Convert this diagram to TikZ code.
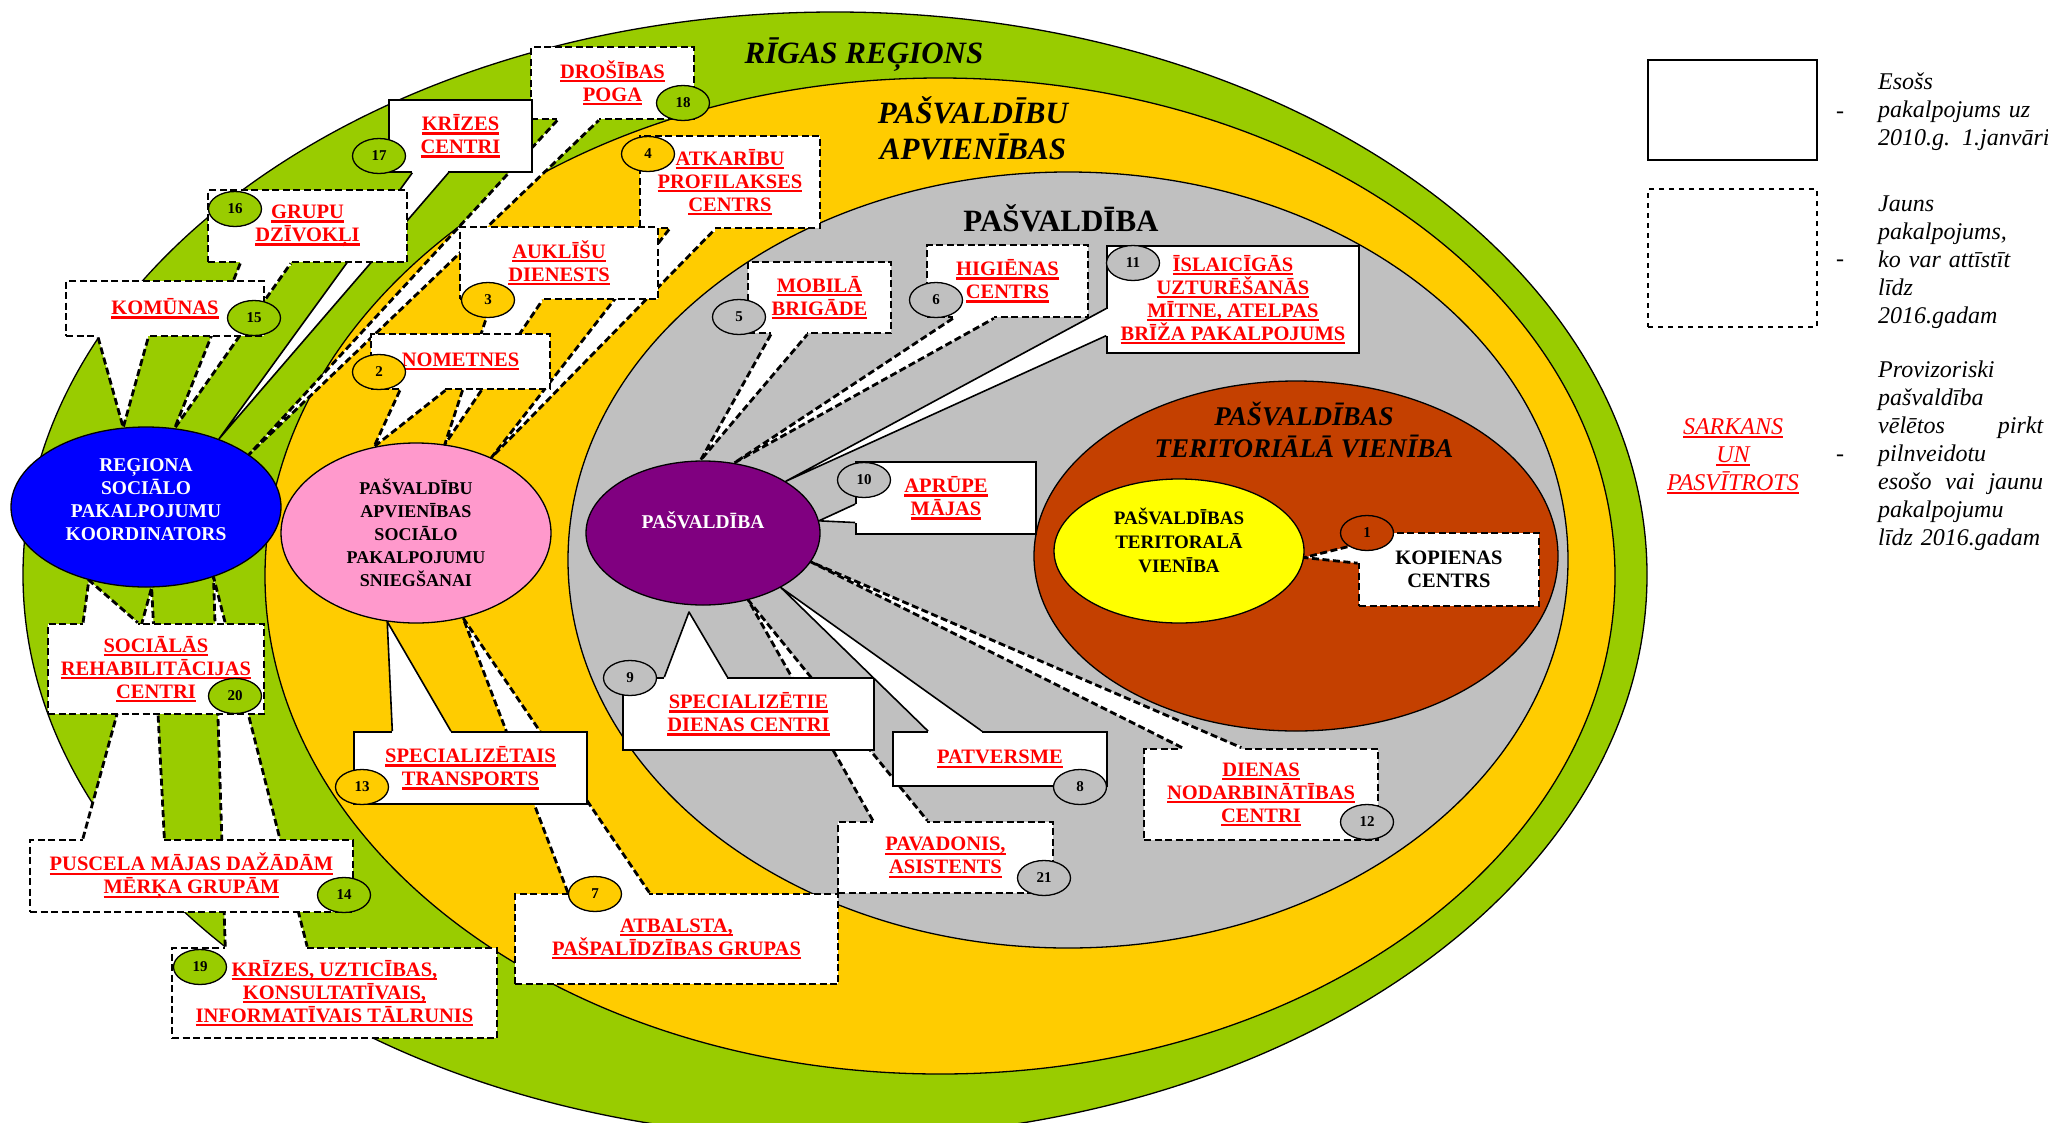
\documentclass[tikz,border=0pt]{standalone}
\usepackage{fontspec}
\setmainfont{Liberation Serif}
\usetikzlibrary{shapes.geometric, calc}

\definecolor{greenband}{RGB}{153,204,0}
\definecolor{orangeband}{RGB}{255,204,0}
\definecolor{grayband}{RGB}{192,192,192}
\definecolor{brownunit}{RGB}{196,64,0}
\definecolor{yellowunit}{RGB}{255,255,0}
\definecolor{koordblue}{RGB}{0,0,255}
\definecolor{apvpink}{RGB}{255,153,204}
\definecolor{pasvpurple}{RGB}{128,0,128}

\newcommand{\calloutfont}{\fontsize{20.5}{23}\selectfont\bfseries}
\newcommand{\corefont}{\fontsize{19.5}{23}\selectfont\bfseries}
\newcommand{\badgefont}{\fontsize{15}{17}\selectfont\bfseries}
\newcommand{\titlefont}{\fontsize{31}{36}\selectfont\bfseries\itshape}
\newcommand{\legendfont}{\fontsize{24}{28}\selectfont\itshape}

% red underline, one per line
\newsavebox{\undbox}
\newcommand{\und}[1]{\leavevmode\sbox{\undbox}{#1}\rlap{\rule[-4pt]{\wd\undbox}{2.2pt}}\usebox{\undbox}}
% justified legend line
\newcommand{\spreadline}[2]{\leavevmode\hbox to 165pt{#1\hfill #2}}

% wedge of a callout: style, first corner, second corner, tip
\newcommand{\tail}[4]{%
  \path (#2) -- coordinate[pos=.1667] (tb1) coordinate[pos=.4167] (tb2) (#3);
  \fill[white] (tb1) -- (#4) -- (tb2) -- cycle;
  \draw[white, line width=4.6pt] (tb1) -- (tb2);
  \draw[#1, line join=round] (tb1) -- (#4) -- (tb2);
}

\begin{document}
\begin{tikzpicture}[x=1pt, y=-1pt,
  band/.style={ellipse, draw=black, line width=1.3pt, inner sep=0pt},
  core/.style={band, align=center, font=\corefont},
  title/.style={align=center, font=\titlefont},
  callbox/.style={rectangle, fill=white, draw=black, inner sep=0pt, align=center, text=red, font=\calloutfont},
  solidbox/.style={callbox, line width=1.6pt},
  dashbox/.style={callbox, line width=2.8pt, dash pattern=on 7pt off 3.5pt},
  soltail/.style={line width=1.6pt},
  dashtail/.style={line width=2.8pt, dash pattern=on 7pt off 3.5pt},
  badge/.style={ellipse, draw=black, line width=1.3pt, minimum width=53pt, minimum height=35pt, inner sep=0pt, font=\badgefont},
  legbox/.style={rectangle, draw=black, minimum width=169pt, inner sep=0pt},
  legtext/.style={anchor=base west, text width=185pt, align=left, inner sep=0pt, font=\legendfont}
]
\fill[white] (0,0) rectangle (2048,1122);
\useasboundingbox (0,0) rectangle (2048,1122);

% nested areas
\node[band, fill=greenband, minimum width=1624, minimum height=1126] (rigas) at (835,575) {};
\node[band, fill=orangeband, minimum width=1350, minimum height=996] (apvband) at (940,576) {};
\node[band, fill=grayband, minimum width=1000, minimum height=776] (pasvband) at (1068,560) {};
\node[band, fill=brownunit, minimum width=524, minimum height=350] (terband) at (1296,556) {};

\node[title] (ttlrigas) at (864,55) {RĪGAS REĢIONS};
\node[title] (ttlapv) at (973,128) {PAŠVALDĪBU\\APVIENĪBAS};
\node[font=\fontsize{31}{36}\selectfont\bfseries] (ttlpasv) at (1061,218) {PAŠVALDĪBA};
\node[title, font=\fontsize{27}{32}\selectfont\bfseries\itshape] (ttlter) at (1304,430) {PAŠVALDĪBAS\\TERITORIĀLĀ VIENĪBA};

% providers
\node[core, fill=koordblue, text=white, minimum width=270, minimum height=160, text depth=14pt] (koord) at (146,507) {REĢIONA\\SOCIĀLO\\PAKALPOJUMU\\KOORDINATORS};
\node[core, fill=apvpink, minimum width=270, minimum height=180, font=\fontsize{18}{23}\selectfont\bfseries] (apv) at (416,533) {PAŠVALDĪBU\\APVIENĪBAS\\SOCIĀLO\\PAKALPOJUMU\\SNIEGŠANAI};
\node[core, fill=pasvpurple, text=white, minimum width=234, minimum height=144, text depth=25pt] (pasv) at (703,533) {PAŠVALDĪBA};
\node[core, fill=yellowunit, minimum width=250, minimum height=144, text depth=22pt, font=\fontsize{19}{24}\selectfont\bfseries] (terv) at (1179,551) {PAŠVALDĪBAS\\TERITORALĀ\\VIENĪBA};
\coordinate (t9) at (689,612);

% regional services
\node[dashbox, minimum width=163, minimum height=72] (c18) at (612.5,83) {\und{DROŠĪBAS}\\\und{POGA}};
\tail{dashtail}{c18.south west}{c18.south east}{koord.27}
\node[badge, fill=greenband] (n18) at (683,103) {18};

\node[solidbox, minimum width=143, minimum height=72] (c17) at (460.5,136) {\und{KRĪZES}\\\und{CENTRI}};
\tail{soltail}{c17.south west}{c17.south east}{koord.43}
\node[badge, fill=greenband] (n17) at (379,156) {17};

\node[dashbox, minimum width=199, minimum height=72] (c16) at (307.5,226) {\und{GRUPU}\\\und{DZĪVOKĻI}};
\tail{dashtail}{c16.south west}{c16.south east}{koord.70}
\node[badge, fill=greenband] (n16) at (235,209) {16};

\node[dashbox, minimum width=198, minimum height=55] (c15) at (165,308.5) {\und{KOMŪNAS}};
\tail{dashtail}{c15.south west}{c15.south east}{koord.106}
\node[badge, fill=greenband] (n15) at (254,318) {15};

% association services
\node[dashbox, minimum width=180, minimum height=92] (c4) at (730,182) {\und{ATKARĪBU}\\\und{PROFILAKSES}\\\und{CENTRS}};
\tail{dashtail}{c4.south west}{c4.south east}{apv.45}
\node[badge, fill=orangeband] (n4) at (648,154) {4};

\node[dashbox, minimum width=198, minimum height=72] (c3) at (559,263) {\und{AUKLĪŠU}\\\und{DIENESTS}};
\tail{dashtail}{c3.south west}{c3.south east}{apv.72}
\node[badge, fill=orangeband] (n3) at (488,300) {3};

\node[dashbox, minimum width=179, minimum height=55] (c2) at (460.5,361.5) {\und{NOMETNES}};
\tail{dashtail}{c2.south west}{c2.south east}{apv.116}
\node[badge, fill=orangeband] (n2) at (379,372) {2};

% municipal services
\node[dashbox, minimum width=143, minimum height=71] (c5) at (819.5,297.5) {\und{MOBILĀ}\\\und{BRIGĀDE}};
\tail{dashtail}{c5.south west}{c5.south east}{pasv.92}
\node[badge, fill=grayband] (n5) at (739,317) {5};

\node[dashbox, minimum width=161, minimum height=72] (c6) at (1007.5,281) {\und{HIGIĒNAS}\\\und{CENTRS}};
\tail{dashtail}{c6.south west}{c6.south east}{pasv.66}
\node[badge, fill=grayband] (n6) at (936,300) {6};

\node[solidbox, minimum width=252, minimum height=107] (c11) at (1233,299.5) {\und{ĪSLAICĪGĀS}\\\und{UZTURĒŠANĀS}\\\und{MĪTNE, ATELPAS}\\\und{BRĪŽA PAKALPOJUMS}};
\tail{soltail}{c11.south west}{c11.north west}{pasv.32}
\node[badge, fill=grayband] (n11) at (1133,263) {11};

\node[solidbox, minimum width=180, minimum height=72] (c10) at (946,498) {\und{APRŪPE}\\\und{MĀJAS}};
\tail{soltail}{c10.south west}{c10.north west}{pasv.6}
\node[badge, fill=grayband] (n10) at (864,480) {10};

\node[dashbox, minimum width=215, minimum height=71] (c21) at (945.5,857.5) {\und{PAVADONIS,}\\\und{ASISTENTS}};
\tail{dashtail}{c21.north west}{c21.north east}{pasv.-56}
\node[badge, fill=grayband] (n21) at (1044,878) {21};

\node[solidbox, minimum width=251, minimum height=72] (c9) at (748.5,714) {\und{SPECIALIZĒTIE}\\\und{DIENAS CENTRI}};
\tail{soltail}{c9.north west}{c9.north east}{t9}
\node[badge, fill=grayband] (n9) at (630,678) {9};

\node[solidbox, minimum width=214, minimum height=54] (c8) at (1000,759) {\und{PATVERSME}};
\tail{soltail}{c8.north west}{c8.north east}{pasv.-35}
\node[badge, fill=grayband] (n8) at (1080,787) {8};

\node[dashbox, minimum width=234, minimum height=91] (c12) at (1261,794.5) {\und{DIENAS}\\\und{NODARBINĀTĪBAS}\\\und{CENTRI}};
\tail{dashtail}{c12.north west}{c12.north east}{pasv.-15}
\node[badge, fill=grayband] (n12) at (1367,822) {12};

\node[dashbox, minimum width=180, minimum height=73, text=black] (c1) at (1449,569.5) {KOPIENAS\\CENTRS};
\tail{dashtail}{c1.north west}{c1.south west}{terv.-3}
\node[badge, fill=brownunit] (n1) at (1367,533) {1};

% lower left
\node[dashbox, minimum width=323, minimum height=90] (c7) at (676.5,939) {\und{ATBALSTA,}\\\und{PAŠPALĪDZĪBAS GRUPAS}};
\tail{dashtail}{c7.north west}{c7.north east}{apv.-61}
\node[badge, fill=orangeband] (n7) at (595,894) {7};

\node[solidbox, minimum width=233, minimum height=72] (c13) at (470.5,768) {\und{SPECIALIZĒTAIS}\\\und{TRANSPORTS}};
\tail{soltail}{c13.north west}{c13.north east}{apv.-108}
\node[badge, fill=orangeband] (n13) at (362,787) {13};

\node[dashbox, minimum width=325, minimum height=90] (c19) at (334.5,993) {\und{KRĪZES, UZTICĪBAS,}\\\und{KONSULTATĪVAIS,}\\\und{INFORMATĪVAIS TĀLRUNIS}};
\tail{dashtail}{c19.north west}{c19.north east}{koord.-46}
\node[badge, fill=greenband] (n19) at (200,967) {19};

\node[dashbox, minimum width=323, minimum height=72] (c14) at (191.5,876) {\und{PUSCELA MĀJAS DAŽĀDĀM}\\\und{MĒRĶA GRUPĀM}};
\tail{dashtail}{c14.north west}{c14.north east}{koord.-86}
\node[badge, fill=greenband] (n14) at (344,895) {14};

\node[dashbox, minimum width=216, minimum height=90] (c20) at (156,669) {\und{SOCIĀLĀS}\\\und{REHABILITĀCIJAS}\\\und{CENTRI}};
\tail{dashtail}{c20.north west}{c20.north east}{koord.-128}
\node[badge, fill=greenband] (n20) at (235,696) {20};

% legend
\node[legbox, line width=2.8pt, minimum height=100] (legold) at (1732.5,110) {};
\node[legbox, line width=2.2pt, dash pattern=on 5pt off 5pt, minimum height=138] (legnew) at (1732.5,258) {};
\node[anchor=base, font=\legendfont] (dold) at (1840,118) {-};
\node[anchor=base, font=\legendfont] (dnew) at (1840,266) {-};
\node[anchor=base, font=\legendfont] (dbuy) at (1840,461) {-};
\node[legtext] (txold) at (1878,89) {Esošs\\pakalpojums uz\\2010.g. 1.janvāri};
\node[legtext] (txnew) at (1878,211) {Jauns\\pakalpojums,\\ko var attīstīt\\līdz\\2016.gadam};
\node[legtext] (txbuy) at (1878,377) {Provizoriski\\pašvaldība\\\spreadline{vēlētos}{pirkt}\\pilnveidotu\\\spreadline{esošo\hfill vai}{jaunu}\\pakalpojumu\\līdz 2016.gadam};
\node[anchor=base, text width=200pt, align=center, inner sep=0pt, text=red, font=\legendfont] (txred) at (1733,434) {\und{SARKANS}\\\und{UN}\\\und{PASVĪTROTS}};
\end{tikzpicture}
\end{document}
